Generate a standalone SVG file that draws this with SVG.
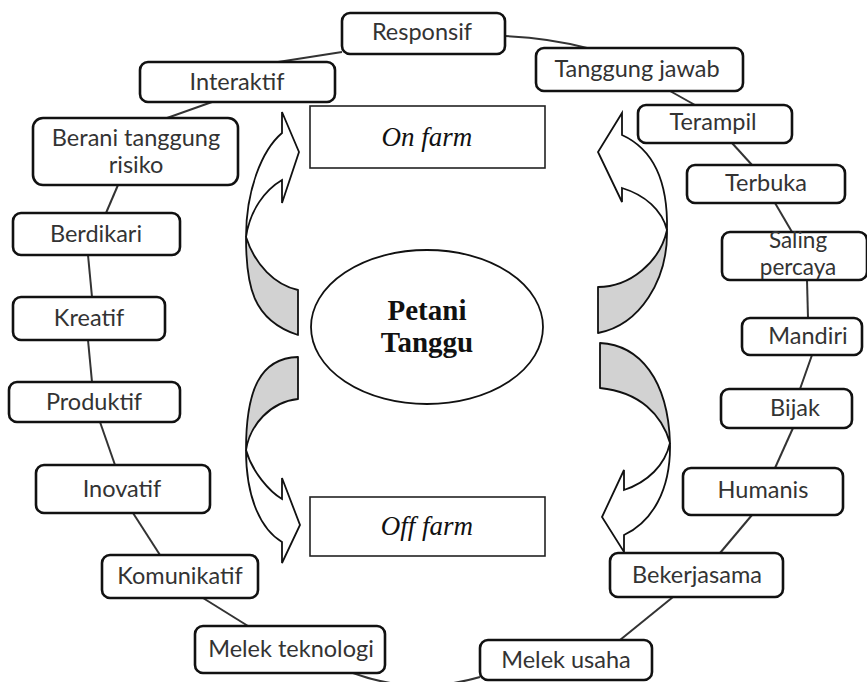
<svg xmlns="http://www.w3.org/2000/svg" width="867" height="682" viewBox="0 0 867 682">
  <style>
    .box { fill: #ffffff; stroke: #111111; stroke-width: 2.6; }
    .lbl { font-family: Lato, "Liberation Sans", Arial, sans-serif; font-size: 23.5px; fill: #333333; text-anchor: middle; }
    .tight { font-size: 22.5px; }
    .link { fill: none; stroke: #333333; stroke-width: 2; }
    .frame { fill: #ffffff; stroke: #222222; stroke-width: 1.6; }
    .farm { font-family: "Liberation Serif", "Times New Roman", serif; font-style: italic; font-size: 27px; fill: #111111; text-anchor: middle; }
    .core { font-family: "Liberation Serif", "Times New Roman", serif; font-weight: bold; font-size: 29px; fill: #111111; text-anchor: middle; }
    .back { fill: #d2d2d2; stroke: #111111; stroke-width: 1.8; stroke-linejoin: round; }
    .front { fill: #ffffff; stroke: #111111; stroke-width: 1.8; stroke-linejoin: miter; }
  </style>

  <rect width="867" height="682" fill="#ffffff"/>

  <!-- ring of links between the value boxes -->
  <g id="connectors">
    <path class="link" d="M505,36 Q550,38 587,48"/>
    <path class="link" d="M670,91 L695,105"/>
    <path class="link" d="M732,143 L752,165"/>
    <path class="link" d="M775,203 L792,232"/>
    <path class="link" d="M807,280 L808,318"/>
    <path class="link" d="M812,355 L800,389"/>
    <path class="link" d="M793,428 L775,468"/>
    <path class="link" d="M752,515 L720,553"/>
    <path class="link" d="M673,597 L620,640"/>
    <path class="link" d="M480,677 Q415,696 353,673"/>
    <path class="link" d="M248,626 L203,598"/>
    <path class="link" d="M160,555 L133,513"/>
    <path class="link" d="M115,465 L100,422"/>
    <path class="link" d="M92,382 L88,340"/>
    <path class="link" d="M92,297 L88,255"/>
    <path class="link" d="M106,213 L118,185"/>
    <path class="link" d="M167,118 L212,102"/>
    <path class="link" d="M278,62 L342,52"/>
  </g>

  <!-- curved arrows from the centre towards on/off farm -->
  <g id="arrow-upper-left">
    <path class="back" d="M246,237 C246,285 252,320 298,335 L298,290 C275,285 255,265 246,237 Z"/>
    <path class="front" d="M246,237 C246,190 262,150 282,133 L282,112 L299,152 L282,203 L282,180 C265,190 250,210 246,237 Z"/>
  </g>
  <g id="arrow-lower-left">
    <path class="back" d="M298,357 C260,358 246,390 246,450 C250,425 270,402 298,399 Z"/>
    <path class="front" d="M246,450 C246,500 262,530 282,542 L282,563 L300,525 L282,478 L282,499 C270,492 252,472 246,450 Z"/>
  </g>
  <g id="arrow-upper-right">
    <path class="back" d="M667,230 C668,280 640,325 598,333 L598,287 C630,287 660,262 667,230 Z"/>
    <path class="front" d="M667,230 C668,185 655,150 622,135 L622,113 L598,152 L622,202 L622,188 C645,195 662,210 667,230 Z"/>
  </g>
  <g id="arrow-lower-right">
    <path class="back" d="M600,343 C640,345 668,380 670,443 C662,415 640,392 600,388 Z"/>
    <path class="front" d="M670,443 C671,490 652,522 624,535 L624,552 L602,517 L624,470 L624,490 C648,482 665,465 670,443 Z"/>
  </g>

  <!-- centre and the two targets -->
  <g id="petani-tanggu">
    <ellipse cx="427" cy="327" rx="116" ry="77" fill="#ffffff" stroke="#111111" stroke-width="1.8"/>
    <text class="core" x="427" y="320">Petani</text>
    <text class="core" x="427" y="352">Tanggu</text>
  </g>
  <g id="on-farm">
    <rect class="frame" x="310" y="106" width="235" height="62"/>
    <text class="farm" x="427" y="146">On farm</text>
  </g>
  <g id="off-farm">
    <rect class="frame" x="310" y="497" width="235" height="59"/>
    <text class="farm" x="427" y="535">Off farm</text>
  </g>

  <!-- value boxes around the ring -->
  <g id="responsif">
    <rect class="box" x="342" y="13" width="163" height="41" rx="8"/>
    <text class="lbl" x="422" y="40">Responsif</text>
  </g>
  <g id="tanggung-jawab">
    <rect class="box" x="536" y="48" width="207" height="43" rx="8"/>
    <text class="lbl" x="637" y="77">Tanggung jawab</text>
  </g>
  <g id="terampil">
    <rect class="box" x="638" y="105" width="154" height="38" rx="8"/>
    <text class="lbl" x="713" y="130">Terampil</text>
  </g>
  <g id="terbuka">
    <rect class="box" x="687" y="165" width="158" height="38" rx="8"/>
    <text class="lbl" x="766" y="191">Terbuka</text>
  </g>
  <g id="saling-percaya">
    <rect class="box" x="722" y="232" width="145" height="48" rx="8"/>
    <text class="lbl tight" x="798" y="248">Saling</text>
    <text class="lbl tight" x="798" y="275">percaya</text>
  </g>
  <g id="mandiri">
    <rect class="box" x="742" y="318" width="120" height="37" rx="8"/>
    <text class="lbl" x="808" y="344">Mandiri</text>
  </g>
  <g id="bijak">
    <rect class="box" x="721" y="389" width="131" height="39" rx="8"/>
    <text class="lbl" x="795" y="416">Bijak</text>
  </g>
  <g id="humanis">
    <rect class="box" x="683" y="468" width="160" height="47" rx="8"/>
    <text class="lbl" x="763" y="498">Humanis</text>
  </g>
  <g id="bekerjasama">
    <rect class="box" x="610" y="553" width="173" height="44" rx="8"/>
    <text class="lbl" x="697" y="583">Bekerjasama</text>
  </g>
  <g id="melek-usaha">
    <rect class="box" x="480" y="640" width="172" height="40" rx="8"/>
    <text class="lbl" x="566" y="668">Melek usaha</text>
  </g>
  <g id="melek-teknologi">
    <rect class="box" x="195" y="626" width="190" height="47" rx="8"/>
    <text class="lbl" x="291" y="657">Melek teknologi</text>
  </g>
  <g id="komunikatif">
    <rect class="box" x="102" y="555" width="156" height="43" rx="8"/>
    <text class="lbl" x="180" y="584">Komunikatif</text>
  </g>
  <g id="inovatif">
    <rect class="box" x="36" y="465" width="174" height="48" rx="8"/>
    <text class="lbl" x="122" y="497">Inovatif</text>
  </g>
  <g id="produktif">
    <rect class="box" x="9" y="382" width="171" height="40" rx="8"/>
    <text class="lbl" x="94" y="410">Produktif</text>
  </g>
  <g id="kreatif">
    <rect class="box" x="13" y="297" width="152" height="43" rx="8"/>
    <text class="lbl" x="89" y="326">Kreatif</text>
  </g>
  <g id="berdikari">
    <rect class="box" x="13" y="213" width="167" height="42" rx="8"/>
    <text class="lbl" x="96" y="242">Berdikari</text>
  </g>
  <g id="berani-tanggung-risiko">
    <rect class="box" x="33" y="118" width="205" height="67" rx="10"/>
    <text class="lbl" x="136" y="146">Berani tanggung</text>
    <text class="lbl" x="136" y="173">risiko</text>
  </g>
  <g id="interaktif">
    <rect class="box" x="140" y="62" width="195" height="40" rx="8"/>
    <text class="lbl" x="237" y="90">Interaktif</text>
  </g>
</svg>
